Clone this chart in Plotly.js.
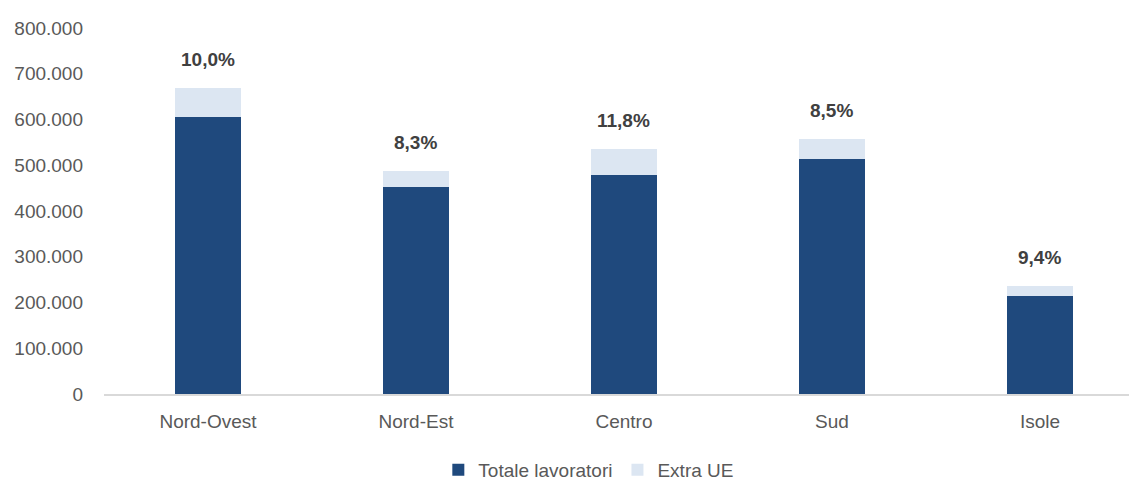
<!DOCTYPE html>
<html>
<head>
<meta charset="utf-8">
<script src="https://cdn.plot.ly/plotly-3.0.1.min.js"></script>
<style>html,body{margin:0;padding:0;background:#fff;}#chart{width:1129px;height:487px;}</style>
</head>
<body>
<div id="chart"></div>
<script>
const categories = ["Nord-Ovest", "Nord-Est", "Centro", "Sud", "Isole"];
const totaleLavoratori = [606000, 452000, 479000, 514000, 215000];
const extraUE = [62000, 35000, 57000, 44000, 22000];
const percentLabels = ["10,0%", "8,3%", "11,8%", "8,5%", "9,4%"];

const FONT = '"Liberation Sans Narrow", "Arial Narrow", "Liberation Sans", Arial, sans-serif';

const traces = [
  {
    type: 'bar', name: 'Totale lavoratori', x: categories, y: totaleLavoratori,
    marker: {color: '#1F497D'}, hoverinfo: 'none'
  },
  {
    type: 'bar', name: 'Extra UE', x: categories, y: extraUE,
    marker: {color: '#DCE6F2'}, hoverinfo: 'none'
  }
];

const annotations = categories.map((c, i) => ({
  x: c, y: totaleLavoratori[i] + extraUE[i], xref: 'x', yref: 'y',
  text: '<b>' + percentLabels[i] + '</b>', showarrow: false,
  yanchor: 'bottom', yshift: 16,
  font: {family: FONT, size: 19, color: '#404040'}
}));

const layout = {
  width: 1129, height: 487,
  margin: {l: 104, r: 0, t: 28, b: 93, autoexpand: false},
  barmode: 'stack', bargap: 0.685,
  separators: ',.',
  paper_bgcolor: '#ffffff', plot_bgcolor: '#ffffff',
  font: {family: FONT, size: 19, color: '#595959'},
  xaxis: {
    range: [-0.5, 4.428], showgrid: false, zeroline: false,
    showline: true, linecolor: '#d9d9d9', linewidth: 1.5,
    ticks: '', ticklabelstandoff: 10,
    tickfont: {family: FONT, size: 19, color: '#595959'}
  },
  yaxis: {
    range: [0, 800000], dtick: 100000, tickformat: ',d',
    showgrid: false, zeroline: false, showline: false, ticks: '',
    ticklabelstandoff: 20,
    tickfont: {family: FONT, size: 19, color: '#595959'}
  },
  showlegend: true,
  legend: {
    orientation: 'h', x: 0.473, xanchor: 'center',
    yref: 'container', y: 0.035, yanchor: 'middle',
    font: {family: FONT, size: 19, color: '#595959'}, traceorder: 'normal',
    itemwidth: 30
  },
  annotations: annotations
};

Plotly.newPlot('chart', traces, layout, {displayModeBar: false, staticPlot: true});
</script>
</body>
</html>
